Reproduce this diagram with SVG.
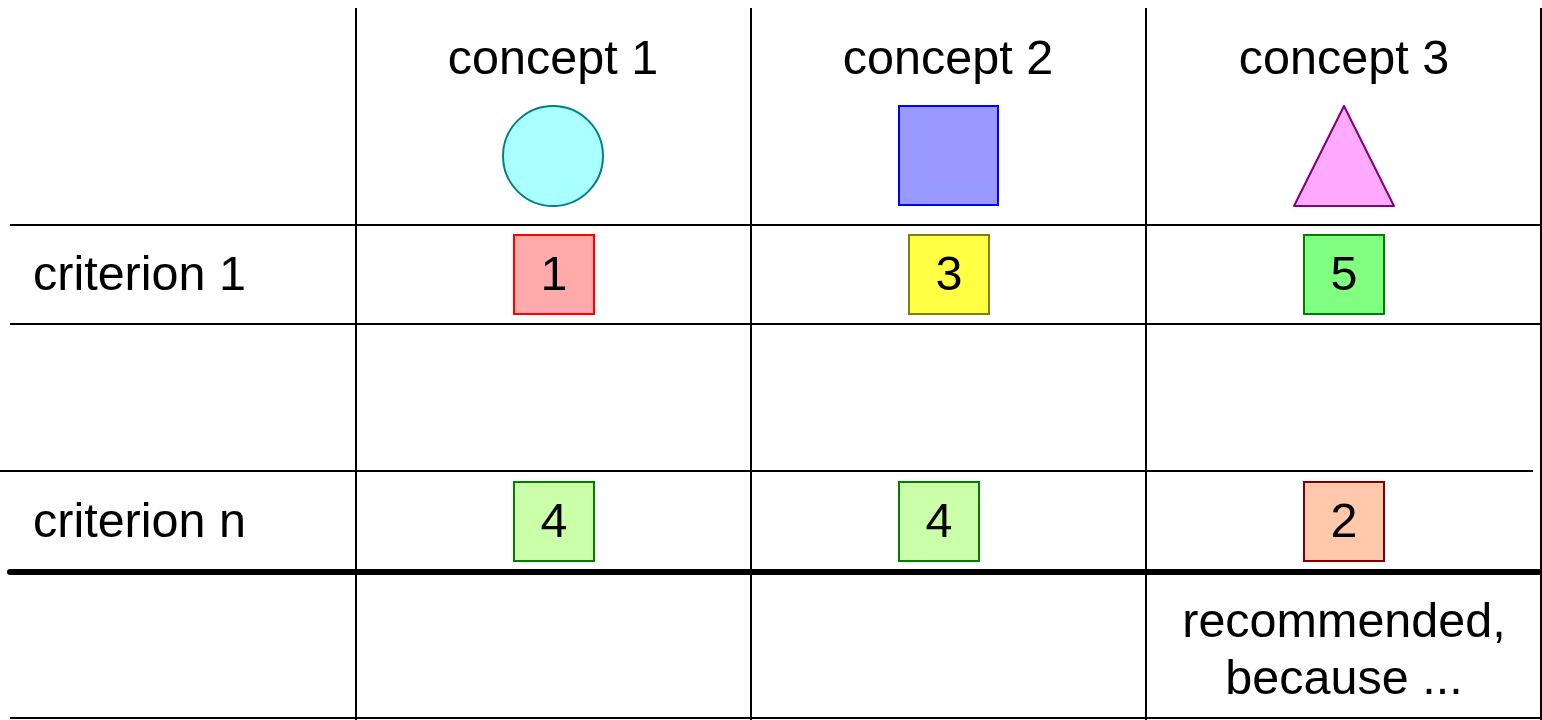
<svg xmlns="http://www.w3.org/2000/svg" width="1542" height="720" viewBox="0 0 1542 720">
<style>
text{font-family:"Liberation Sans",Arial,sans-serif;font-size:48.5px;fill:#000}
.c{text-anchor:middle}
.g{stroke:#000;stroke-width:2;fill:none}
.box{stroke-width:2}
</style>
<rect x="0" y="0" width="1542" height="720" fill="#fff"/>
<g id="grid">
<line class="g" x1="356" y1="8" x2="356" y2="720"/>
<line class="g" x1="751" y1="8" x2="751" y2="720"/>
<line class="g" x1="1146" y1="8" x2="1146" y2="720"/>
<line class="g" x1="1541" y1="8" x2="1541" y2="720"/>
<line class="g" x1="10" y1="225" x2="1542" y2="225"/>
<line class="g" x1="10" y1="324" x2="1542" y2="324"/>
<line class="g" x1="0" y1="471" x2="1533" y2="471"/>
<line x1="10" y1="572" x2="1542" y2="572" stroke="#000" stroke-width="6" stroke-linecap="round"/>
<line class="g" x1="10" y1="718" x2="1542" y2="718"/>
</g>
<g id="header-concept1">
<text class="c" x="553" y="74">concept 1</text>
<circle cx="553" cy="156" r="50" fill="#aaffff" stroke="#008080" stroke-width="2"/>
</g>
<g id="header-concept2">
<text class="c" x="948" y="74">concept 2</text>
<rect x="899" y="106" width="99" height="99" fill="#9999ff" stroke="#0000ff" stroke-width="2"/>
</g>
<g id="header-concept3">
<text class="c" x="1344" y="74">concept 3</text>
<polygon points="1344,106 1394,206 1294,206" fill="#ffaaff" stroke="#800080" stroke-width="2" stroke-linejoin="round"/>
</g>
<g id="row-criterion1">
<text x="33" y="290">criterion 1</text>
</g>
<g id="score-c1-1"><rect class="box" x="514" y="235" width="80" height="79" fill="#ffaaaa" stroke="#ff0000"/><text class="c" x="554" y="290">1</text></g>
<g id="score-c1-2"><rect class="box" x="909" y="235" width="80" height="79" fill="#ffff44" stroke="#808000"/><text class="c" x="949" y="290">3</text></g>
<g id="score-c1-3"><rect class="box" x="1304" y="235" width="80" height="79" fill="#80ff80" stroke="#008000"/><text class="c" x="1344" y="290">5</text></g>
<g id="row-criterionn">
<text x="33" y="537">criterion n</text>
</g>
<g id="score-cn-1"><rect class="box" x="514" y="482" width="80" height="79" fill="#ccffaa" stroke="#008000"/><text class="c" x="554" y="537">4</text></g>
<g id="score-cn-2"><rect class="box" x="899" y="482" width="80" height="79" fill="#ccffaa" stroke="#008000"/><text class="c" x="939" y="537">4</text></g>
<g id="score-cn-3"><rect class="box" x="1304" y="482" width="80" height="79" fill="#ffc8aa" stroke="#800000"/><text class="c" x="1344" y="537">2</text></g>
<g id="recommendation">
<text class="c" x="1344" y="637">recommended,</text>
<text class="c" x="1344" y="694">because ...</text>
</g>
</svg>
